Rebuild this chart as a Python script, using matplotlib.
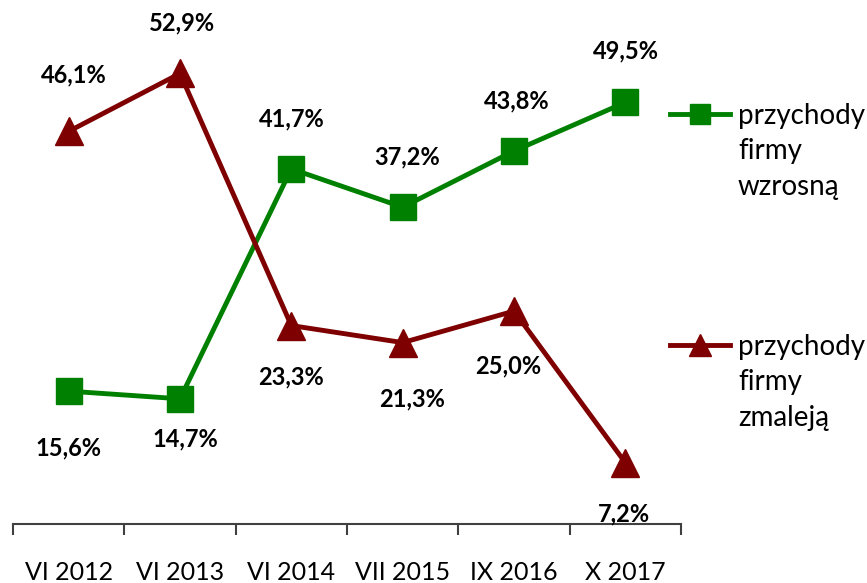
import numpy as np
import matplotlib.pyplot as plt
from matplotlib.lines import Line2D

plt.rcParams['font.family'] = ['Lato', 'DejaVu Sans']

# dane
okresy = ['VI 2012', 'VI 2013', 'VI 2014', 'VII 2015', 'IX 2016', 'X 2017']
wzrosna = [15.6, 14.7, 41.7, 37.2, 43.8, 49.5]
zmaleja = [46.1, 52.9, 23.3, 21.3, 25.0, 7.2]

# przesuniecia etykiet w pikselach (dx, dy)
off_wzrosna = [(0, -57), (5, -40), (0, 50), (4, 50), (3, 50), (1, 52)]
off_zmaleja = [(5, 56), (2, 51), (0, -51), (9, -56), (-6, -55), (-1, -51)]

zielony = '#008000'
bordo = '#7f0000'

fig = plt.figure(figsize=(8.67, 5.83), dpi=100)
ax = fig.add_axes([13/867, 1 - 524/583, 668/867, 511/583])

x = np.arange(len(okresy))
ax.plot(x, wzrosna, color=zielony, lw=3.5, marker='s', ms=19, zorder=3)
ax.plot(x, zmaleja, color=bordo, lw=3.5, marker='^', ms=20, zorder=3)

def etykiety(wart, off):
    for i, (v, (dx, dy)) in enumerate(zip(wart, off)):
        ax.annotate(f'{v:.1f}%'.replace('.', ','), (i, v), xytext=(dx, dy),
                    textcoords='offset pixels', ha='center', va='center',
                    fontsize=17, fontweight='bold', color='black')

etykiety(wzrosna, off_wzrosna)
etykiety(zmaleja, off_zmaleja)

ax.set_xlim(-0.5, len(okresy) - 0.5)
ax.set_ylim(0, 60)
ax.set_xticks(np.arange(len(okresy) + 1) - 0.5)
ax.set_xticklabels([])
ax.set_xticks(x, minor=True)
ax.set_xticklabels(okresy, minor=True, fontsize=18)
ax.tick_params(axis='x', which='major', length=8, width=1.5, direction='out', color='#404040')
ax.tick_params(axis='x', which='minor', length=0, pad=27)
ax.set_yticks([])
for s in ['left', 'right', 'top']:
    ax.spines[s].set_visible(False)
ax.spines['bottom'].set_linewidth(1.5)
ax.spines['bottom'].set_color('#404040')

# legenda
def klucz(y, kolor, marker, ms, tekst):
    fig.add_artist(Line2D([670/867, 730/867], [1 - y/583] * 2, color=kolor, lw=3.5))
    fig.add_artist(Line2D([700/867], [1 - y/583], color=kolor, marker=marker, ms=ms, lw=0))
    fig.text(738/867, 1 - (y - 11)/583, tekst, fontsize=20, va='top', ha='left',
             linespacing=1.45, color='black')

klucz(114, zielony, 's', 14.5, 'przychody\nfirmy\nwzrosną')
klucz(345, bordo, '^', 16, 'przychody\nfirmy\nzmaleją')

fig.savefig('out.png', dpi=100)
